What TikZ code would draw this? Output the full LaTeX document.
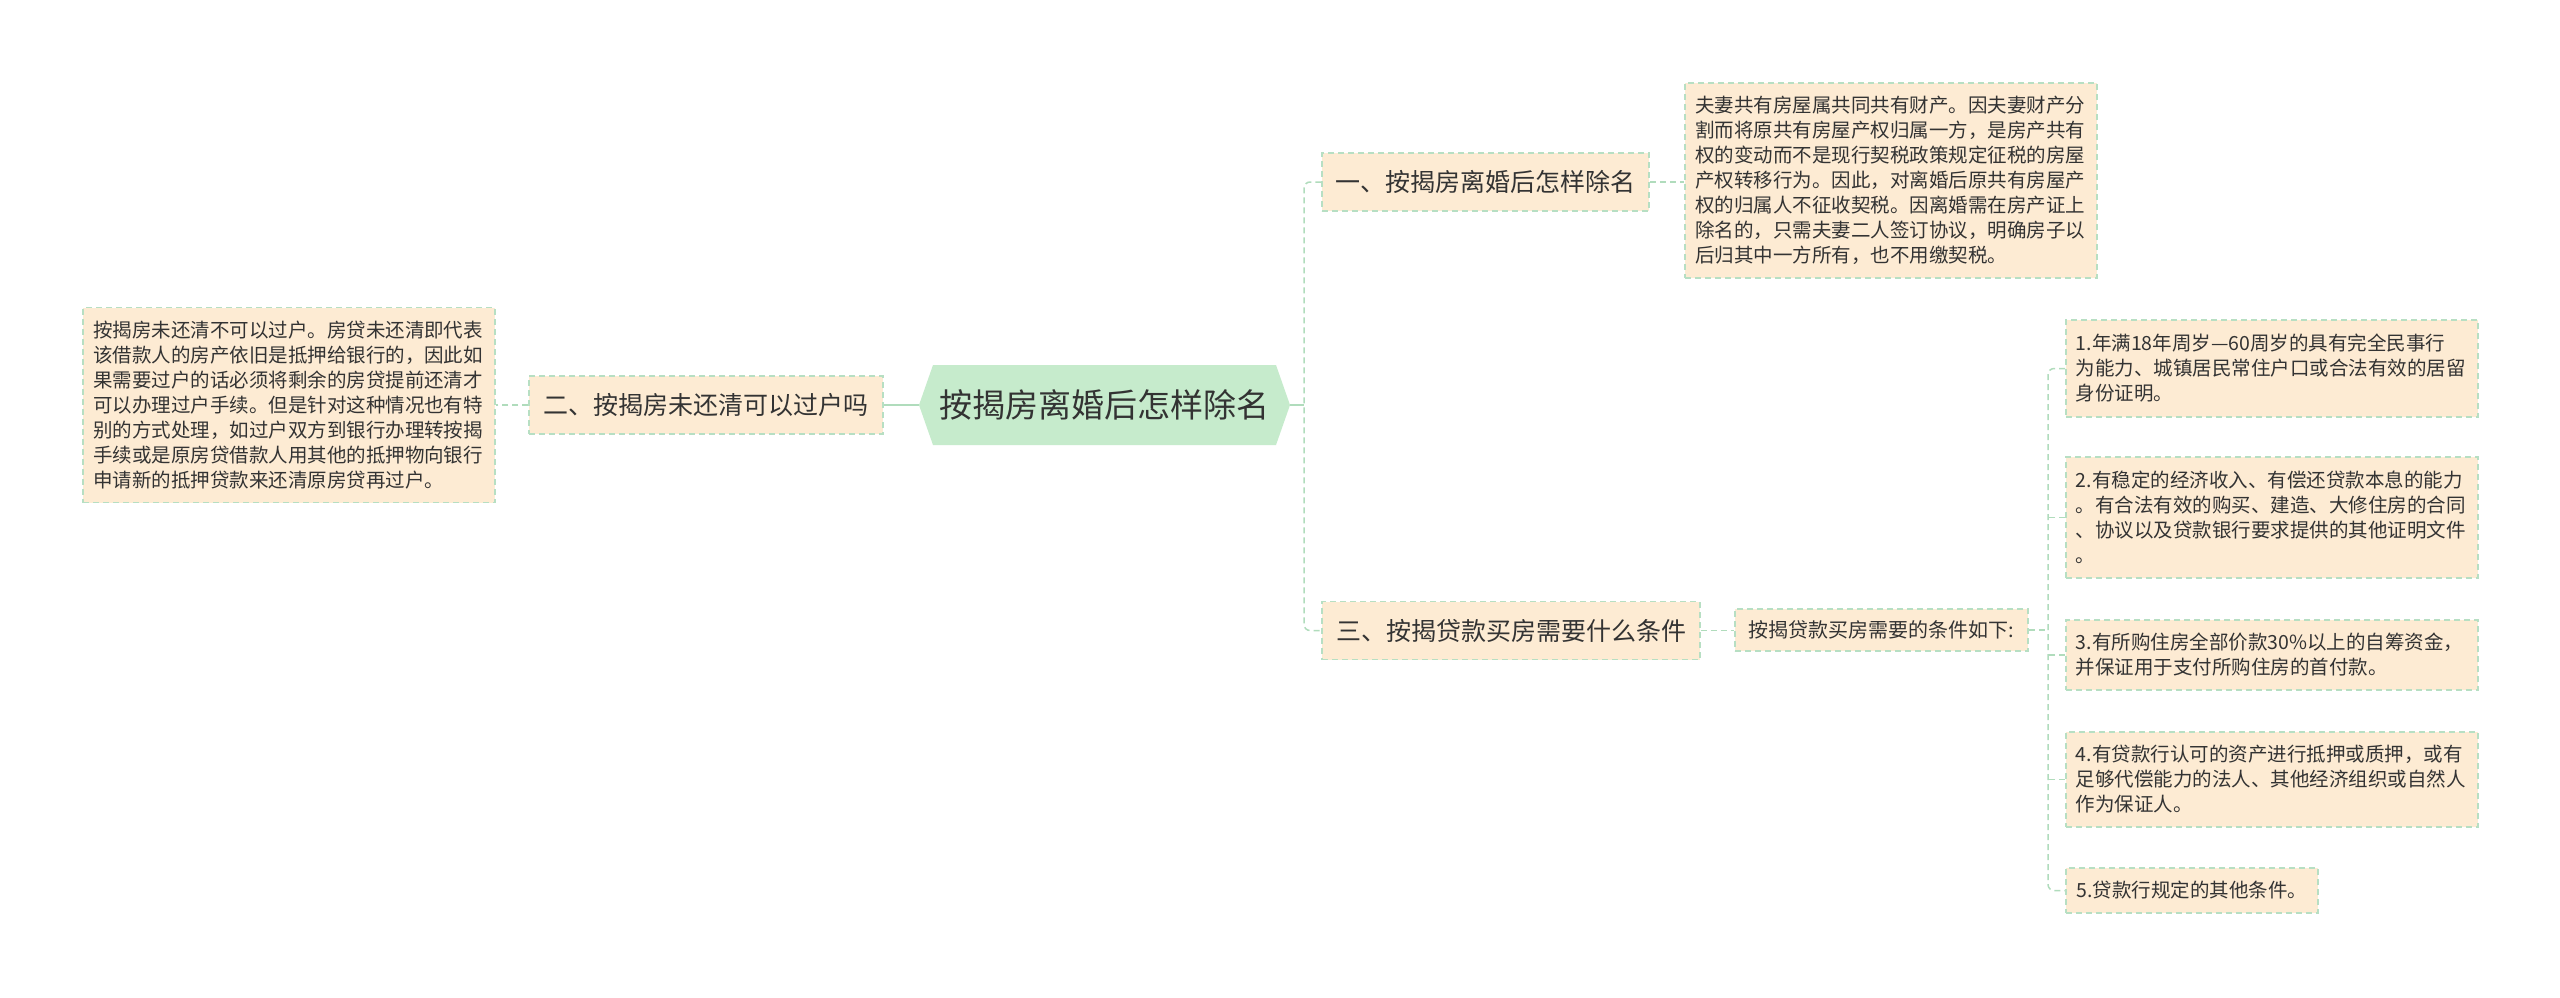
\documentclass[tikz,border=0pt]{standalone}
\usepackage{fontspec}
\setmainfont{Noto Sans CJK SC}
\definecolor{peach}{HTML}{FDEBD3}
\definecolor{bgreen}{HTML}{B7DFC3}
\definecolor{rootgreen}{HTML}{C6EBCC}
\definecolor{txt}{HTML}{333333}
\definecolor{lnk}{HTML}{B0DCBC}
\begin{document}
\begin{tikzpicture}[x=1pt,y=-1pt,
 box/.style={draw=bgreen, line width=1.5pt, dash pattern=on 6pt off 4pt, fill=peach, inner sep=0pt, text=txt},
 topic/.style={box, font=\fontsize{25}{30}\selectfont, minimum height=58pt},
 para/.style={box, font=\fontsize{19.5}{25}\selectfont, align=left, text width=392pt, inner xsep=10pt},
 link/.style={draw=lnk, line width=2pt},
 dlink/.style={draw=lnk, line width=1.5pt, dash pattern=on 6pt off 4pt},
]
\useasboundingbox[fill=white] (0,0) rectangle (2560,997);

% root
\fill[rootgreen] (919,405) -- (933,365) -- (1276,365) -- (1290,405) -- (1276,445) -- (933,445) -- cycle;
\node[font=\fontsize{33}{40}\selectfont, text=txt, minimum width=371pt, minimum height=80pt, inner sep=0pt] (root) at (1104.5,405) {按揭房离婚后怎样除名};

% left branch
\node[topic, minimum width=354pt] (two) at (706,405) {二、按揭房未还清可以过户吗};
\node[para, minimum height=195pt] (lb) at (289,405) {按揭房未还清不可以过户。房贷未还清即代表\\该借款人的房产依旧是抵押给银行的，因此如\\果需要过户的话必须将剩余的房贷提前还清才\\可以办理过户手续。但是针对这种情况也有特\\别的方式处理，如过户双方到银行办理转按揭\\手续或是原房贷借款人用其他的抵押物向银行\\申请新的抵押贷款来还清原房贷再过户。};

% right branch 1
\node[topic, minimum width=327pt] (one) at (1485.5,182) {一、按揭房离婚后怎样除名};
\node[para, minimum height=195pt] (tr) at (1891,180.5) {夫妻共有房屋属共同共有财产。因夫妻财产分\\割而将原共有房屋产权归属一方，是房产共有\\权的变动而不是现行契税政策规定征税的房屋\\产权转移行为。因此，对离婚后原共有房屋产\\权的归属人不征收契税。因离婚需在房产证上\\除名的，只需夫妻二人签订协议，明确房子以\\后归其中一方所有，也不用缴契税。};

% right branch 3
\node[topic, minimum width=378pt] (three) at (1511,630.5) {三、按揭贷款买房需要什么条件};
\node[box, font=\fontsize{20}{24}\selectfont, minimum width=293pt, minimum height=42pt] (cond) at (1881.5,630) {按揭贷款买房需要的条件如下:};

\node[para, anchor=west, minimum height=97pt] (i1) at (2065,368.5) {1.年满18年周岁—60周岁的具有完全民事行\\为能力、城镇居民常住户口或合法有效的居留\\身份证明。};
\node[para, anchor=west, minimum height=121pt] (i2) at (2065,517.5) {2.有稳定的经济收入、有偿还贷款本息的能力\\。有合法有效的购买、建造、大修住房的合同\\、协议以及贷款银行要求提供的其他证明文件\\。};
\node[para, anchor=west, minimum height=70pt] (i3) at (2065,655) {3.有所购住房全部价款30\%以上的自筹资金，\\并保证用于支付所购住房的首付款。};
\node[para, anchor=west, minimum height=95pt] (i4) at (2065,779.5) {4.有贷款行认可的资产进行抵押或质押，或有\\足够代偿能力的法人、其他经济组织或自然人\\作为保证人。};
\node[box, font=\fontsize{19.5}{25}\selectfont, anchor=west, minimum width=252pt, minimum height=45pt] (i5) at (2065,890.5) {5.贷款行规定的其他条件。};

% connectors
\coordinate (s1) at (1304,405);
\coordinate (s2) at (2048,630);
\draw[link] (root.west) -- (two.east);
\draw[dlink] (two.west) -- (lb.east |- two.west);
\draw[link] (root.east) -- (s1);
\draw[dlink, rounded corners=6pt] (one.west) -| (s1) |- (three.west);
\draw[dlink] (one.east) -- (tr.west |- one.east);
\draw[dlink] (three.east) -- (cond.west |- three.east);
\draw[dlink] (cond.east) -- (s2);
\draw[dlink, rounded corners=6pt] (i1.west) -| (s2) |- (i5.west);
\draw[dlink] (i2.west) -- (i2.west -| s2);
\draw[dlink] (i3.west) -- (i3.west -| s2);
\draw[dlink] (i4.west) -- (i4.west -| s2);
\end{tikzpicture}
\end{document}
